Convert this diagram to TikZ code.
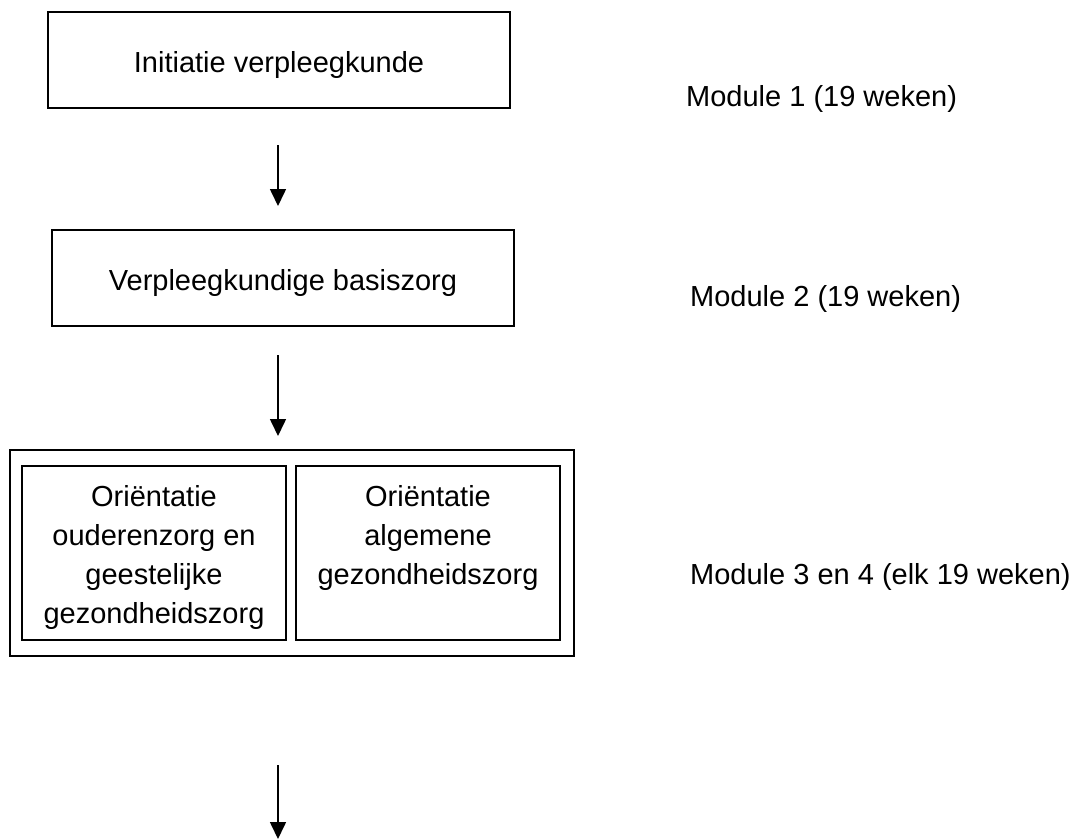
\documentclass[tikz,border=0pt]{standalone}
\usepackage{fontspec}
\setmainfont{Liberation Sans}
\usetikzlibrary{arrows.meta}
\tikzset{
  boxstyle/.style={draw=black, line width=2pt, inner sep=0pt, fill=white},
  txt/.style={font=\fontsize{29pt}{39pt}\selectfont, inner sep=0pt, align=center},
  flowarrow/.style={line width=1.6pt, -{Triangle[length=17pt,width=16pt]}}
}
\begin{document}
\begin{tikzpicture}[x=1pt,y=-1pt]
\useasboundingbox[fill=white] (0,0) rectangle (1080,839);
% box 1
\node[boxstyle, minimum width=462pt, minimum height=96pt] (b1) at (279,60) {};
\node[txt] (t1) at ([yshift=-5pt]b1.center) {Initiatie verpleegkunde};
% box 2
\node[boxstyle, minimum width=462pt, minimum height=96pt] (b2) at (283,278) {};
\node[txt] (t2) at ([yshift=-5pt]b2.center) {Verpleegkundige basiszorg};
% outer box
\node[boxstyle, minimum width=564pt, minimum height=206pt] (b3) at (292,553) {};
\node[boxstyle, minimum width=264pt, minimum height=174pt] (b3l) at (154,553) {};
\node[boxstyle, minimum width=264pt, minimum height=174pt] (b3r) at (428,553) {};
\node[txt, anchor=north] (t3l) at ([yshift=-20pt]b3l.north) {Oriëntatie\\ouderenzorg en\\geestelijke\\gezondheidszorg};
\node[txt, anchor=north] (t3r) at ([yshift=-20pt]b3r.north) {Oriëntatie\\algemene\\gezondheidszorg};
% arrows
\coordinate (a1s) at (278,145);
\coordinate (a1e) at (278,206);
\coordinate (a2s) at (278,355);
\coordinate (a2e) at (278,436);
\coordinate (a3s) at (278,765);
\coordinate (a3e) at (278,839);
\draw[flowarrow] (a1s) -- (a1e);
\draw[flowarrow] (a2s) -- (a2e);
\draw[flowarrow] (a3s) -- (a3e);
% module labels
\node[txt, anchor=west] (m1) at (686,99) {Module 1 (19 weken)};
\node[txt, anchor=west] (m2) at (690,299) {Module 2 (19 weken)};
\node[txt, anchor=west] (m3) at (690,577) {Module 3 en 4 (elk 19 weken)};
\end{tikzpicture}
\end{document}
